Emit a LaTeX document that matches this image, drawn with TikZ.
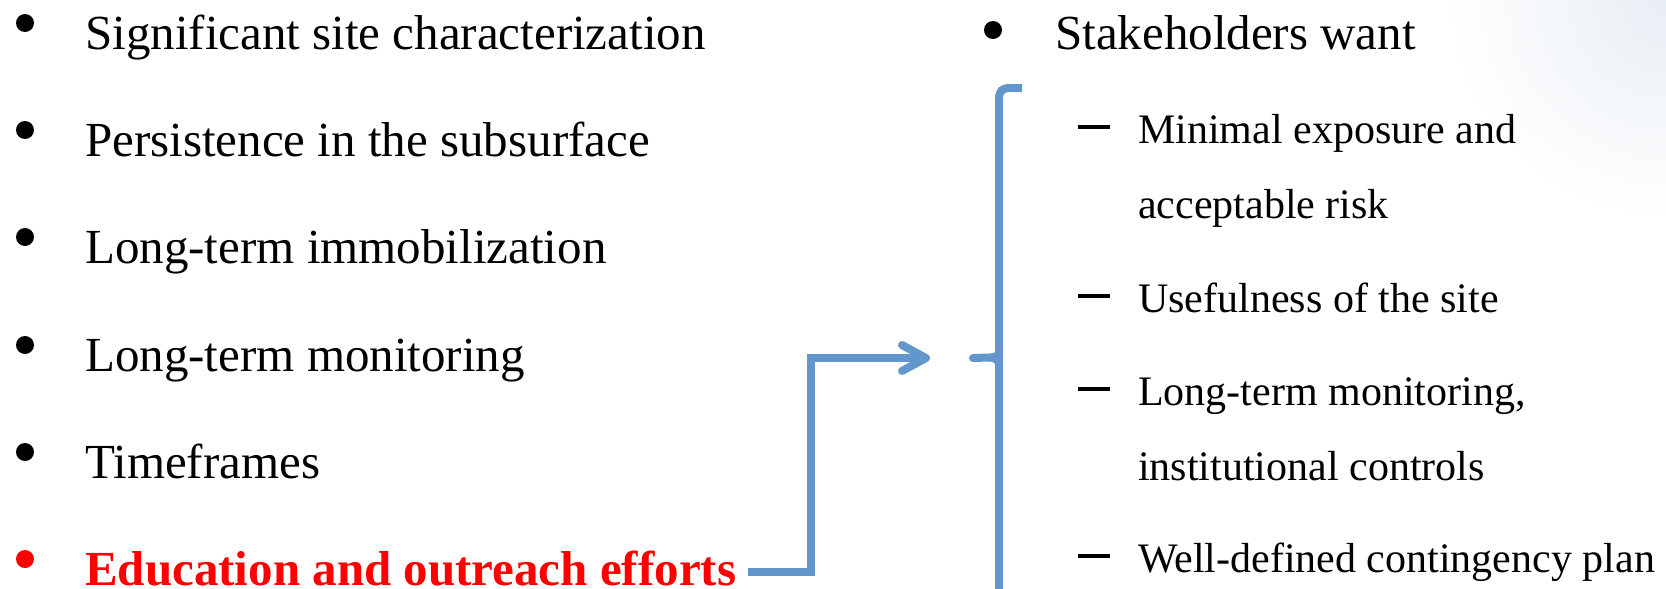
\documentclass[tikz,border=0pt]{standalone}
\usepackage{fontspec}
\setmainfont{Liberation Serif}
\usetikzlibrary{arrows.meta}
\definecolor{linkblue}{RGB}{99,150,203}
\definecolor{hazeblue}{RGB}{232,238,245}

\begin{document}
\begin{tikzpicture}[x=1pt,y=-1pt,
  item/.style={anchor=base west, inner sep=0pt, font=\fontsize{49}{49}\selectfont},
  subitem/.style={anchor=base west, inner sep=0pt, align=left,
    font=\fontsize{42}{75}\selectfont},
  hot/.style={anchor=base west, inner sep=0pt, text=red,
    font=\fontsize{49}{49}\selectfont\bfseries},
  dashmark/.style={line width=4pt},
  link/.style={draw=linkblue, line width=8pt},
]
\useasboundingbox (0,0) rectangle (1666,589);

% soft haze in the upper right corner
\begin{scope}
  \clip (0,0) rectangle (1666,589);
  \shade[inner color=hazeblue, outer color=white] (1666,0) circle[radius=220pt];
\end{scope}

% left column
\node[item] (l1) at (85,49)  {Significant site characterization};
\node[item] (l2) at (85,156) {Persistence in the subsurface};
\node[item] (l3) at (85,263) {Long-term immobilization};
\node[item] (l4) at (85,371) {Long-term monitoring};
\node[item] (l5) at (85,478) {Timeframes};
\node[hot]  (l6) at (85,585) {Education and outreach efforts};

\foreach \yy in {23,130,237,345,452} \fill (25,\yy) circle[radius=9pt];
\fill[red] (25,559) circle[radius=9pt];

% right column (base anchor sits on the last line of each item)
\fill (993,30) circle[radius=9pt];
\node[item] (r0) at (1055,49) {Stakeholders want};

\node[subitem] (r1) at (1138,218) {Minimal exposure and\\acceptable risk};
\node[subitem] (r2) at (1138,312) {Usefulness of the site};
\node[subitem] (r3) at (1138,480) {Long-term monitoring,\\institutional controls};
\node[subitem] (r4) at (1138,572) {Well-defined contingency plan};

\foreach \yy in {127,296,389,556} \draw[dashmark] (1078,\yy) -- (1110,\yy);

% bracket grouping the wishes
\coordinate (tip) at (930,358);
\coordinate (bracetick) at (973,358);
\draw[link] (1022,88) -- (1010,88) .. controls (1002,88) and (999,91) .. (999,99) -- (999,600);
\draw[link, line cap=round] (bracetick) -- (990,357.5) .. controls (995,357.5) and (999,356) .. (999,352);
\draw[link] (990,357.5) .. controls (995,357.5) and (999,360) .. (999,365);

% connector from the highlighted item to the bracket
\draw[link, -{Straight Barb[length=24pt,width=26pt,round]}]
  ([xshift=12pt,yshift=-4pt]l6.east) -| ([xshift=-119pt]tip) -- (tip);
\end{tikzpicture}
\end{document}
